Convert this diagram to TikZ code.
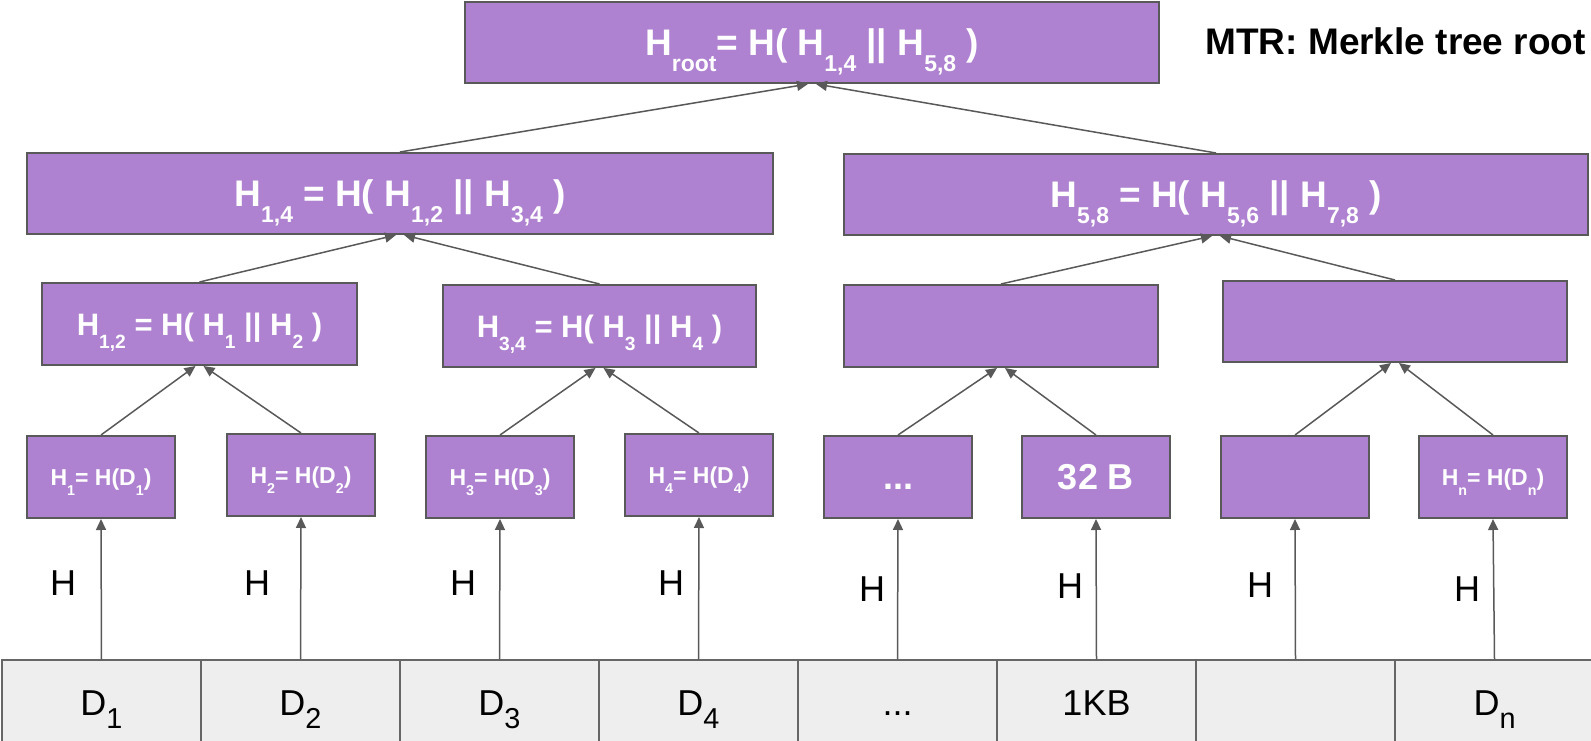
\documentclass[tikz,border=0pt]{standalone}
\usepackage{fontspec}
\setmainfont{Liberation Sans}
\usetikzlibrary{arrows.meta}

\definecolor{hashfill}{RGB}{175,130,209}
\definecolor{edgegray}{RGB}{89,89,89}
\definecolor{datafill}{RGB}{238,238,238}
\definecolor{datagray}{RGB}{102,102,102}

% low-set subscripts: small ones inside the hash boxes, larger ones in the data row
\newcommand\hsub[1]{\raisebox{-0.43em}{\scalebox{0.62}{#1}}}
\newcommand\dsub[1]{\raisebox{-0.36em}{\scalebox{0.8}{#1}}}

\begin{document}
\begin{tikzpicture}[x=1pt,y=-1pt,
  hashbox/.style={draw=edgegray, line width=2pt, fill=hashfill, text=white,
    inner sep=0pt, minimum height=82pt, text depth=0pt},
  bigtext/.style={font=\fontsize{37}{44}\selectfont\bfseries, text height=26.5pt},
  midtext/.style={font=\fontsize{31}{37}\selectfont\bfseries, text height=22.2pt},
  leaftext/.style={font=\fontsize{23}{28}\selectfont\bfseries, text height=16.5pt},
  leafbig/.style={font=\fontsize{36}{43}\selectfont\bfseries, text height=25.8pt},
  leafbox/.style={hashbox, leaftext, minimum width=148pt},
  datacell/.style={draw=datagray, line width=1.5pt, fill=datafill, inner sep=0pt,
    minimum width=199pt, minimum height=85pt,
    font=\fontsize{36}{43}\selectfont, text height=25.8pt, text depth=0pt},
  hlabel/.style={inner sep=0pt, font=\fontsize{36}{43}\selectfont,
    text height=25.8pt, text depth=0pt},
  conn/.style={draw=edgegray, line width=1.5pt,
    -{Triangle[length=11pt,width=10pt]}},
]
\useasboundingbox (0,0) rectangle (1591,741);

% root and caption
\node[hashbox, bigtext, minimum width=694pt, minimum height=81pt] (root) at (812,42.5)
  {H\hsub{root}= H( H\hsub{1,4} || H\hsub{5,8} )};
\node[inner sep=0pt, anchor=base east, font=\fontsize{37}{44}\selectfont\bfseries]
  (mtr) at (1586,55) {MTR: Merkle tree root};

% second level
\node[hashbox, bigtext, minimum width=746pt, minimum height=81pt] (h14) at (400,193.5)
  {H\hsub{1,4} = H( H\hsub{1,2} || H\hsub{3,4} )};
\node[hashbox, bigtext, minimum width=744pt, minimum height=81pt] (h58) at (1216,194.5)
  {H\hsub{5,8} = H( H\hsub{5,6} || H\hsub{7,8} )};

% third level
\node[hashbox, midtext, minimum width=315pt] (h12) at (199.5,324)
  {H\hsub{1,2} = H( H\hsub{1} || H\hsub{2} )};
\node[hashbox, midtext, minimum width=313pt] (h34) at (599.5,326)
  {H\hsub{3,4} = H( H\hsub{3} || H\hsub{4} )};
\node[hashbox, midtext, minimum width=314pt] (h56) at (1001,326) {};
\node[hashbox, midtext, minimum width=344pt, minimum height=81pt] (h78) at (1395,321.5) {};

% leaf hashes
\node[leafbox] (l1) at (101,477) {H\hsub{1}= H(D\hsub{1})};
\node[leafbox] (l2) at (301,475) {H\hsub{2}= H(D\hsub{2})};
\node[leafbox] (l3) at (500,477) {H\hsub{3}= H(D\hsub{3})};
\node[leafbox] (l4) at (699,475) {H\hsub{4}= H(D\hsub{4})};
\node[leafbox, leafbig] (l5) at (898,477) {...};
\node[leafbox, leafbig] (l6) at (1096,477) {32 B};
\node[leafbox] (l7) at (1295,477) {};
\node[leafbox] (l8) at (1493,477) {H\hsub{n}= H(D\hsub{n})};

% data blocks
\node[datacell] (d1) at (101.5,702.5) {D\dsub{1}};
\node[datacell] (d2) at (300.5,702.5) {D\dsub{2}};
\node[datacell] (d3) at (499.5,702.5) {D\dsub{3}};
\node[datacell] (d4) at (698.5,702.5) {D\dsub{4}};
\node[datacell] (d5) at (897.5,702.5) {...};
\node[datacell] (d6) at (1096.5,702.5) {1KB};
\node[datacell] (d7) at (1295.5,702.5) {};
\node[datacell] (d8) at (1494.5,702.5) {D\dsub{n}};

% hash function labels
\node[hlabel] (f1) at (63,583) {H};
\node[hlabel] (f2) at (257,583) {H};
\node[hlabel] (f3) at (463,583) {H};
\node[hlabel] (f4) at (671,583) {H};
\node[hlabel] (f5) at (872,589) {H};
\node[hlabel] (f6) at (1070,586) {H};
\node[hlabel] (f7) at (1260,585) {H};
\node[hlabel] (f8) at (1467,589) {H};

% hashing each data block
\foreach \i in {1,...,8}
  \draw[conn] (d\i.north) -- (l\i.south);

% combining pairs up the tree
\draw[conn] (l1.north) -- ([xshift=-4pt]h12.south);
\draw[conn] (l2.north) -- ([xshift=4pt]h12.south);
\draw[conn] (l3.north) -- ([xshift=-4pt]h34.south);
\draw[conn] (l4.north) -- ([xshift=4pt]h34.south);
\draw[conn] (l5.north) -- ([xshift=-4pt]h56.south);
\draw[conn] (l6.north) -- ([xshift=4pt]h56.south);
\draw[conn] (l7.north) -- ([xshift=-4pt]h78.south);
\draw[conn] (l8.north) -- ([xshift=4pt]h78.south);

\draw[conn] (h12.north) -- ([xshift=-4pt]h14.south);
\draw[conn] (h34.north) -- ([xshift=4pt]h14.south);
\draw[conn] (h56.north) -- ([xshift=-4pt]h58.south);
\draw[conn] (h78.north) -- ([xshift=4pt]h58.south);

\draw[conn] (h14.north) -- ([xshift=-4pt]root.south);
\draw[conn] (h58.north) -- ([xshift=4pt]root.south);
\end{tikzpicture}
\end{document}
